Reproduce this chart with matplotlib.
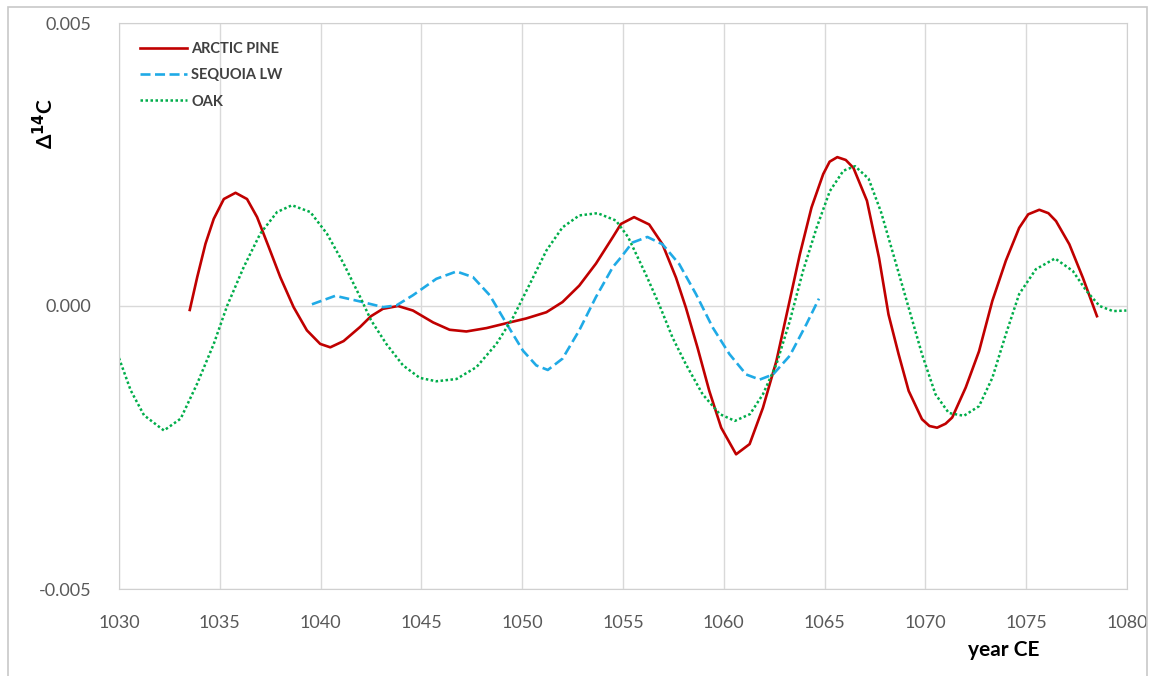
import matplotlib
matplotlib.use('Agg')
import matplotlib.pyplot as plt
from matplotlib.patches import Rectangle

plt.rcParams['font.family'] = ['Lato', 'DejaVu Sans']

# values, in units of 0.001
pine_year = [1033.51, 1033.88, 1034.29, 1034.70, 1035.2, 1035.78, 1036.35, 1036.85, 1037.43,
             1038.0, 1038.66, 1039.32, 1039.98, 1040.48, 1041.14, 1041.96, 1042.5, 1043.09,
             1043.84, 1044.58, 1045.58, 1046.4, 1047.23, 1048.23, 1049.38, 1050.2, 1051.2,
             1052.0, 1052.83, 1053.66, 1054.5, 1054.9, 1055.55, 1056.3, 1056.96, 1057.63,
             1058.12, 1058.7, 1059.28, 1059.87, 1060.61, 1061.28, 1061.94, 1062.61, 1063.19,
             1063.77, 1064.35, 1064.93, 1065.25, 1065.63, 1066.05, 1066.43, 1067.1, 1067.7,
             1068.17, 1068.67, 1069.17, 1069.83, 1070.2, 1070.58, 1071.0, 1071.33, 1072.0,
             1072.66, 1073.32, 1073.99, 1074.65, 1075.1, 1075.65, 1076.1, 1076.48, 1077.14,
             1077.81, 1078.51]
pine_val = [-0.07, 0.51, 1.10, 1.54, 1.89, 2.0, 1.89, 1.57, 1.04,
            0.51, -0.02, -0.43, -0.67, -0.73, -0.62, -0.37, -0.18, -0.05,
            0.0, -0.08, -0.29, -0.42, -0.45, -0.39, -0.29, -0.22, -0.11,
            0.07, 0.36, 0.75, 1.22, 1.45, 1.57, 1.44, 1.09, 0.5,
            -0.03, -0.74, -1.5, -2.15, -2.62, -2.44, -1.8, -0.97, -0.03,
            0.91, 1.74, 2.33, 2.55, 2.63, 2.58, 2.44, 1.86, 0.85,
            -0.15, -0.85, -1.5, -2.0, -2.12, -2.15, -2.08, -1.97, -1.44,
            -0.8, 0.09, 0.8, 1.38, 1.62, 1.7, 1.64, 1.5, 1.09,
            0.5, -0.18]

seq_year = [1039.57, 1040.73, 1041.96, 1043.1, 1043.76, 1044.58, 1045.74, 1046.74, 1047.56,
            1048.39, 1049.22, 1050.04, 1050.7, 1051.27, 1052.0, 1052.83, 1053.66, 1054.5,
            1054.9, 1055.46, 1056.21, 1056.96, 1057.79, 1058.62, 1059.45, 1060.28, 1061.11,
            1061.78, 1062.44, 1063.27, 1064.1, 1064.72]
seq_val = [0.03, 0.18, 0.08, -0.02, 0.01, 0.19, 0.48, 0.61, 0.51,
           0.19, -0.31, -0.79, -1.05, -1.13, -0.93, -0.43, 0.16, 0.69,
           0.86, 1.12, 1.22, 1.09, 0.74, 0.21, -0.38, -0.85, -1.21,
           -1.3, -1.21, -0.88, -0.32, 0.13]

oak_year = [1030.0, 1030.58, 1031.24, 1032.23, 1033.06, 1033.88, 1034.7, 1035.36, 1036.19,
            1037.01, 1037.84, 1038.58, 1039.49, 1040.31, 1041.14, 1041.96, 1042.5, 1043.26,
            1044.09, 1044.92, 1045.74, 1046.74, 1047.73, 1048.72, 1049.55, 1050.38, 1051.2,
            1052.0, 1052.83, 1053.74, 1054.65, 1055.25, 1056.13, 1056.79, 1057.46, 1058.12,
            1058.95, 1059.8, 1060.55, 1061.3, 1061.94, 1062.61, 1063.27, 1063.93, 1064.6,
            1065.26, 1065.93, 1066.51, 1067.18, 1067.8, 1068.5, 1069.17, 1069.83, 1070.5,
            1071.16, 1071.91, 1072.66, 1073.32, 1073.99, 1074.65, 1075.48, 1076.43, 1077.31,
            1077.98, 1078.64, 1079.3, 1079.97]
oak_val = [-0.92, -1.49, -1.93, -2.2, -1.99, -1.37, -0.67, 0.0, 0.69,
           1.28, 1.66, 1.78, 1.66, 1.28, 0.75, 0.16, -0.25, -0.67,
           -1.05, -1.27, -1.33, -1.29, -1.08, -0.67, -0.2, 0.39, 0.98,
           1.39, 1.6, 1.64, 1.51, 1.22, 0.56, 0.03, -0.56, -1.03,
           -1.56, -1.91, -2.03, -1.91, -1.56, -1.03, -0.27, 0.62, 1.38,
           2.03, 2.39, 2.47, 2.25, 1.66, 0.8, -0.03, -0.85, -1.56,
           -1.89, -1.94, -1.77, -1.27, -0.5, 0.21, 0.65, 0.84, 0.62,
           0.27, 0.0, -0.09, -0.08]

x_ticks = [1030, 1035, 1040, 1045, 1050, 1055, 1060, 1065, 1070, 1075, 1080]
y_ticks = [-0.005, 0.0, 0.005]
y_labels = ['-0.005', '0.000', '0.005']

fig = plt.figure(figsize=(11.51, 6.76), dpi=100)
ax = fig.add_axes([119/1151, 1 - 589/676, (1127 - 119)/1151, (589 - 23)/676])

ax.plot(pine_year, [v/1000 for v in pine_val], color='#C00000', lw=1.9,
        solid_joinstyle='round', label='ARCTIC PINE')
ax.plot(seq_year, [v/1000 for v in seq_val], color='#1FAAE6', lw=1.9,
        linestyle=(0, (3.8, 1.7)), label='SEQUOIA LW')
ax.plot(oak_year, [v/1000 for v in oak_val], color='#00AD4A', lw=1.8,
        linestyle=(0, (1.0, 1.0)), label='OAK')

ax.set_xlim(1030, 1080)
ax.set_ylim(-0.005, 0.005)
ax.set_xticks(x_ticks)
ax.set_yticks(y_ticks)
ax.set_yticklabels(y_labels)
ax.grid(True, color='#d9d9d9', lw=1.0)
ax.set_axisbelow(True)
for s in ax.spines.values():
    s.set_color('#d0d0d0')
ax.tick_params(length=0, labelsize=13, colors='#595959')
ax.tick_params(axis='x', pad=19)
ax.tick_params(axis='y', pad=20)

leg = ax.legend(loc='upper left', frameon=False, fontsize=10.5, handlelength=3.2,
                handletextpad=0.3, labelspacing=0.85, bbox_to_anchor=(0.008, 0.99))
for t in leg.get_texts():
    t.set_fontweight('bold')
    t.set_color('#404040')

fig.text(45/1151, 1 - 123/676, 'Δ$^{\\mathbf{14}}$C', rotation=90, fontsize=15,
         fontweight='bold', color='black', ha='center', va='center')
fig.text(1004/1151, 1 - 650/676, 'year CE', fontsize=15, fontweight='bold',
         color='black', ha='center', va='center')

fig.patches.append(Rectangle((8/1151, -0.05), (1147 - 8)/1151, 1.05 - 7/676,
                             transform=fig.transFigure, fill=False,
                             edgecolor='#c8c8c8', lw=1.2))

fig.savefig('out.png', dpi=100)
